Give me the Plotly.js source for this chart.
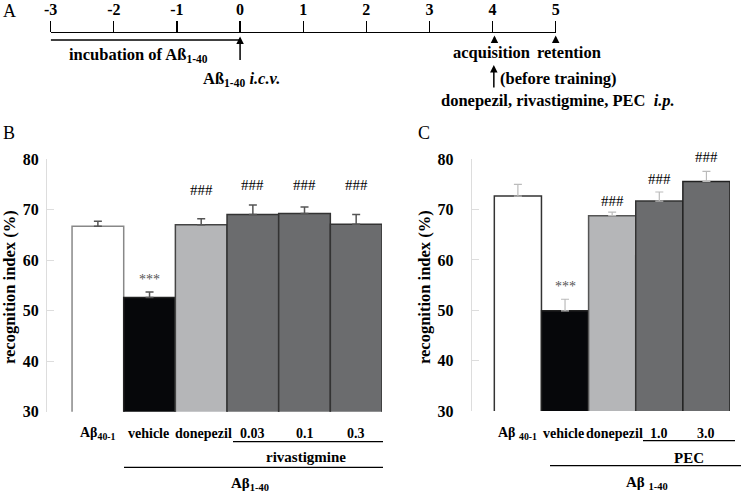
<!DOCTYPE html>
<html>
<head>
<meta charset="utf-8">
<script src="https://cdn.plot.ly/plotly-3.0.1.min.js"></script>
<style>html,body{margin:0;padding:0;background:#fff;}#chart{width:741px;height:492px;}</style>
</head>
<body>
<div id="chart"></div>
<script>
// ---------- data ----------
const catsB = ["Ab40-1", "vehicle", "donepezil", "riv0.03", "riv0.1", "riv0.3"];
const labelsB = ["Aβ<sub>40-1</sub>", "vehicle", "donepezil", "0.03", "0.1", "0.3"];
const valuesB = [66.7, 52.6, 67.0, 69.0, 69.2, 67.1];
const errorsB = [1.0, 1.1, 1.2, 1.9, 1.3, 1.9];
const sigB = ["", "***", "###", "###", "###", "###"];
const sigYB = [0, 56.1, 73.8, 74.8, 74.8, 74.8];

const catsC = ["Ab40-1", "vehicle", "donepezil", "PEC1.0", "PEC3.0"];
const labelsC = ["Aβ <sub>40-1</sub>", "vehicle", "donepezil", "1.0", "3.0"];
const valuesC = [72.7, 49.9, 68.8, 71.7, 75.6];
const errorsC = [2.3, 2.3, 0.7, 1.8, 2.0];
const sigC = ["", "***", "###", "###", "###"];
const sigYC = [0, 54.8, 71.7, 76.1, 80.5];

const timelineDays = [-3, -2, -1, 0, 1, 2, 3, 4, 5];
const timelineLabels = ["-3", "-2", "-1", "0", "1", "2", "3", "4", "5"];

// ---------- styling ----------
const W = 741, H = 492;
const FONT = '"Liberation Serif", "Times New Roman", Times, serif';
const px = x => x / W;
const py = y => 1 - y / H;
const colorsB = ["#ffffff", "#06070a", "#b5b6b8", "#6b6c6e", "#6b6c6e", "#6b6c6e"];
const lineB = ["#888888", "#222222", "#444444", "#333333", "#333333", "#333333"];
const colorsC = ["#ffffff", "#06070a", "#b5b6b8", "#6b6c6e", "#6b6c6e"];
const lineC = ["#333333", "#222222", "#555555", "#333333", "#222222"];
const shiftB = [0, -1, 2, 0, 0, 0];
const shiftC = [0, -2, 2, 0, 0];

const domB = [py(411.7), py(159)];
const domC = [py(411), py(159.3)];
const yRange = [30, 80];

const traces = [
  {
    type: "bar", x: catsB, y: valuesB, xaxis: "x", yaxis: "y",
    marker: {color: colorsB, line: {color: lineB, width: 1.5}},
    error_y: {type: "data", symmetric: false, array: errorsB, arrayminus: errorsB.map(() => 0),
              color: "#555555", thickness: 1.5, width: 4},
    hoverinfo: "skip"
  },
  {
    type: "bar", x: catsC, y: valuesC, xaxis: "x2", yaxis: "y2",
    marker: {color: colorsC, line: {color: lineC, width: 1.5}},
    error_y: {type: "data", symmetric: false, array: errorsC, arrayminus: errorsC.map(() => 0),
              color: "#bbbbbb", thickness: 1.2, width: 4},
    hoverinfo: "skip"
  },
  {
    type: "scatter", mode: "markers", x: timelineDays, y: timelineDays.map(() => 0),
    xaxis: "x3", yaxis: "y3", marker: {opacity: 0}, hoverinfo: "skip"
  }
];

const tickFont = {family: FONT, size: 16, color: "#000", weight: "bold"};
const yBase = {
  range: yRange, dtick: 10, tick0: 30, showgrid: false, zeroline: false,
  showline: true, linecolor: "#dddddd", linewidth: 1,
  ticks: "inside", ticklen: 7, tickcolor: "#dddddd", tickfont: tickFont
};

const annotations = [];
const shapes = [];
function txt(x, y, text, size, opts) {
  annotations.push(Object.assign({
    xref: "paper", yref: "paper", x: px(x), y: py(y), text: text, showarrow: false,
    xanchor: "center", yanchor: "middle",
    font: {family: FONT, size: size, color: "#000"}
  }, opts || {}));
}
function hline(x0, x1, y) {
  shapes.push({type: "line", xref: "paper", yref: "paper", x0: px(x0), x1: px(x1), y0: py(y), y1: py(y),
               line: {color: "#000", width: 1.2}});
}
// map a data value onto the paper coordinate of a panel's y axis
const toPaper = (v, dom) => dom[0] + (v - yRange[0]) / (yRange[1] - yRange[0]) * (dom[1] - dom[0]);

// panel letters
txt(9, 11, "A", 18);
txt(9, 133, "B", 18);
txt(424, 133, "C", 18);

// y titles
txt(9, 287, "<b>recognition index (%)</b>", 16.5, {textangle: -90});
txt(424, 287, "<b>recognition index (%)</b>", 16.5, {textangle: -90});

// x labels + significance marks
catsB.forEach((c, i) => {
  annotations.push({xref: "x", yref: "paper", x: c, y: py(433), text: "<b>" + labelsB[i] + "</b>", xshift: shiftB[i],
    showarrow: false, xanchor: "center", yanchor: "middle", font: {family: FONT, size: 14, color: "#000"}});
  if (sigB[i]) annotations.push({xref: "x", yref: "paper", x: c, y: toPaper(sigYB[i], domB), text: sigB[i],
    showarrow: false, xanchor: "center", yanchor: "middle",
    font: {family: FONT, size: sigB[i] === "***" ? 14 : 15, color: sigB[i] === "***" ? "#555" : "#000"}});
});
catsC.forEach((c, i) => {
  annotations.push({xref: "x2", yref: "paper", x: c, y: py(433), text: "<b>" + labelsC[i] + "</b>", xshift: shiftC[i],
    showarrow: false, xanchor: "center", yanchor: "middle", font: {family: FONT, size: 14, color: "#000"}});
  if (sigC[i]) annotations.push({xref: "x2", yref: "paper", x: c, y: toPaper(sigYC[i], domC), text: sigC[i],
    showarrow: false, xanchor: "center", yanchor: "middle",
    font: {family: FONT, size: sigC[i] === "***" ? 14 : 15, color: sigC[i] === "***" ? "#555" : "#000"}});
});

// brackets panel B
hline(233, 383, 441.7);
txt(306, 456.5, "<b>rivastigmine</b>", 15);
hline(124, 383, 467.3);
txt(250, 483.5, "<b>Aβ<sub>1-40</sub></b>", 15);
// brackets panel C
hline(643, 735, 440.7);
txt(689, 458, "<b>PEC</b>", 15);
hline(550, 741, 465.7);
txt(647, 483, "<b>Aβ <sub>1-40</sub></b>", 15);

// timeline
shapes.push({type: "line", xref: "x3", yref: "paper", x0: -3, x1: 0, y0: py(40), y1: py(40),
             line: {color: "#000", width: 1.3}});
function arrow(xd, yHead, len) {
  annotations.push({xref: "x3", yref: "paper", x: xd, y: py(yHead), ax: 0, ay: len, text: "",
    showarrow: true, arrowhead: 2, arrowsize: 1, arrowwidth: 1.5, arrowcolor: "#000"});
}
arrow(0, 36.5, 25);
arrow(4.03, 35.5, 8);
arrow(5, 35.5, 8);
arrow(4.02, 65, 24);
txt(138, 55, "<b>incubation of Aß<sub>1-40</sub></b>", 16.5);
txt(242, 79, "<b>Aß<sub>1-40</sub> <i>i.c.v.</i></b>", 16.5);
txt(491, 53, "<b>acquisition</b>", 16.5);
txt(569, 53, "<b>retention</b>", 16.5);
txt(498, 78, "<b>(before training)</b>", 16.5, {xanchor: "left"});
txt(558, 100, "<b>donepezil, rivastigmine, PEC  <i>i.p.</i></b>", 16.5);

const layout = {
  width: W, height: H, margin: {l: 0, r: 0, t: 0, b: 0},
  paper_bgcolor: "#fff", plot_bgcolor: "rgba(0,0,0,0)", showlegend: false,
  bargap: 0, font: {family: FONT, color: "#000"},
  xaxis: {domain: [px(47), px(382)], range: [-0.985, 5.5], type: "category", anchor: "y",
          showticklabels: false, ticks: "", showgrid: false, zeroline: false, showline: false},
  yaxis: Object.assign({}, yBase, {domain: domB, anchor: "x", ticklabelstandoff: 4}),
  xaxis2: {domain: [px(471.7), px(730)], range: [-0.98, 4.5], type: "category", anchor: "y2",
           showticklabels: false, ticks: "", showgrid: false, zeroline: false, showline: false},
  yaxis2: Object.assign({}, yBase, {domain: domC, anchor: "x2", ticklabelstandoff: 14}),
  xaxis3: {domain: [px(50.7), px(555.7)], range: [-3, 5], anchor: "y3", side: "top",
           tickmode: "array", tickvals: timelineDays, ticktext: timelineLabels,
           showline: true, linecolor: "#000", linewidth: 1.3, ticks: "outside", ticklen: 11, tickwidth: 1.3,
           tickcolor: "#000", showgrid: false, zeroline: false, tickfont: tickFont},
  yaxis3: {domain: [py(40), py(33.3)], range: [-1, 1], visible: false, anchor: "x3"},
  annotations: annotations, shapes: shapes
};

Plotly.newPlot("chart", traces, layout, {staticPlot: true, displayModeBar: false});
</script>
</body>
</html>
